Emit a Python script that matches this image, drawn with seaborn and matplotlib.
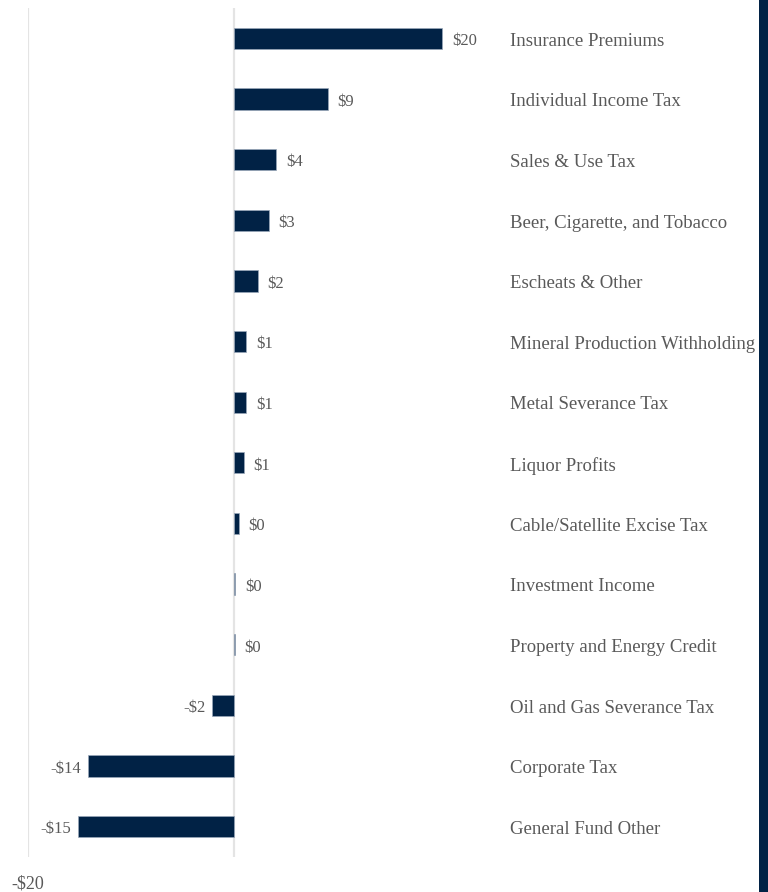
import matplotlib
matplotlib.use("Agg")
import matplotlib.pyplot as plt
from matplotlib.patches import Rectangle
import seaborn as sns
import pandas as pd

# Revenue change by source (millions of dollars)
categories = [
    "Insurance Premiums",
    "Individual Income Tax",
    "Sales & Use Tax",
    "Beer, Cigarette, and Tobacco",
    "Escheats & Other",
    "Mineral Production Withholding",
    "Metal Severance Tax",
    "Liquor Profits",
    "Cable/Satellite Excise Tax",
    "Investment Income",
    "Property and Energy Credit",
    "Oil and Gas Severance Tax",
    "Corporate Tax",
    "General Fund Other",
]
values = [20.2, 9.1, 4.1, 3.4, 2.3, 1.2, 1.2, 0.95, 0.45, 0.1, 0.06, -2.1, -14.2, -15.1]
x_ticks = [-20]
x_tick_labels = ["-$20"]

NAVY = "#012245"
TEXT = "#595959"
GRID = "#e4e4e4"

sns.set_theme(style="white")
plt.rcParams["font.family"] = ["Liberation Serif", "DejaVu Serif"]

df = pd.DataFrame({"category": categories, "value": values})

W, H = 768, 892
fig = plt.figure(figsize=(W / 100, H / 100), dpi=100)
left_px, right_px, top_px, bottom_px = 28, 760, 8, 857
ax = fig.add_axes([left_px / W, 1 - bottom_px / H,
                   (right_px - left_px) / W, (bottom_px - top_px) / H])

sns.barplot(data=df, y="category", x="value", orient="h", color=NAVY,
            saturation=1, width=0.35, edgecolor="#9aa8ba", linewidth=0.5, ax=ax)

px_per_unit = 10.3
xmin = -20
xmax = xmin + (right_px - left_px) / px_per_unit
ax.set_xlim(xmin, xmax)
ax.set_ylim(len(categories) - 0.5, -0.5)

for gx in (-20, 0):
    ax.axvline(gx, color=GRID, lw=1.6, zorder=0)

for s in ax.spines.values():
    s.set_visible(False)
ax.set_xlabel("")
ax.set_ylabel("")
ax.set_yticks([])
ax.set_xticks(x_ticks)
ax.set_xticklabels(x_tick_labels, fontsize=13, color=TEXT)
ax.tick_params(axis="x", length=0, pad=13.5)

# value labels next to each bar
for i, v in enumerate(values):
    if v >= 0:
        label = f"${v:.0f}"
        ax.annotate(label, (v, i), xytext=(7, -2), textcoords="offset points",
                    ha="left", va="center", fontsize=12, color=TEXT)
    else:
        label = f"-${abs(v):.0f}"
        ax.annotate(label, (v, i), xytext=(-5, -2), textcoords="offset points",
                    ha="right", va="center", fontsize=12, color=TEXT)

# category names in a column on the right
label_x = (510 - 234) / px_per_unit
for i, c in enumerate(categories):
    ax.annotate(c, (label_x, i), xytext=(0, -2), textcoords="offset points",
                ha="left", va="center", fontsize=13.5, color=TEXT)

# dark band along the right edge
fig.patches.append(Rectangle((759 / W, 0), 9 / W, 1, transform=fig.transFigure,
                             facecolor=NAVY, edgecolor="none", zorder=10))

fig.savefig("out.png", dpi=100, facecolor="white")
